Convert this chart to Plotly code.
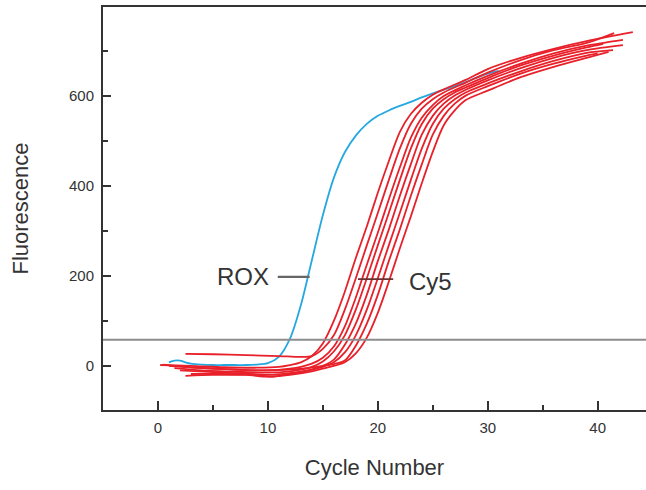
import plotly.graph_objects as go

# ---------------- data ----------------
rox_cycles = [1, 1.5, 2, 2.5, 3, 4, 5, 6, 7, 8, 9, 10, 11, 12, 13, 14, 15, 16,
              17, 18, 19, 20, 21, 22, 23, 24, 25, 26, 27, 28, 29, 30, 31]
rox_values = [8, 12, 12, 8, 5, 3, 2, 2, 2, 2, 3, 6, 20, 60, 135, 235, 335, 418,
              475, 512, 538, 556, 568, 578, 587, 597, 606, 614, 622, 631, 641, 650, 656]

cy5_1_cycles = [0.2, 3, 6, 9, 11, 12, 13, 14, 15, 16, 17, 18, 19, 20, 21, 22, 23, 24,
                25, 26, 28, 30, 33, 36, 39, 43.2]
cy5_1_values = [2, 0, -3, -4, -2, 2, 8, 22, 50, 100, 165, 240, 310, 385, 455, 520, 560, 585,
                603, 615, 636, 660, 685, 705, 722, 742]

cy5_2_cycles = [2.5, 5, 8, 11, 13, 14, 15, 16, 17, 18, 19, 20, 21, 22, 23, 24, 25, 26,
                28, 30, 33, 36, 39, 41.5]
cy5_2_values = [27, 26, 24, 22, 20, 22, 38, 68, 125, 195, 268, 340, 413, 483, 538, 572, 593, 608,
                630, 652, 680, 702, 718, 740]

cy5_3_cycles = [1, 4, 7, 10, 12, 13, 14, 15, 16, 17, 18, 19, 20, 21, 22, 23, 24, 25,
                26, 28, 30, 33, 36, 39, 42.3]
cy5_3_values = [0, -5, -8, -10, -6, -2, 5, 18, 43, 88, 152, 225, 296, 370, 441, 507, 552, 580,
                600, 624, 645, 672, 695, 712, 725]

cy5_4_cycles = [1.5, 4, 7, 10, 12, 13, 14, 15, 16, 17, 18, 19, 20, 21, 22, 23, 24, 25,
                26, 27, 28, 30, 33, 36, 39, 40.5]
cy5_4_values = [-5, -10, -13, -15, -12, -8, -2, 10, 32, 68, 125, 195, 268, 340, 413, 483, 538, 572,
                593, 608, 619, 640, 668, 690, 708, 716]

cy5_5_cycles = [3, 6, 9, 10.5, 12, 14, 15, 16, 17, 18, 19, 20, 21, 22, 23, 24, 25, 26,
                27, 28, 30, 33, 36, 39, 42.3]
cy5_5_values = [-18, -18, -20, -24, -18, -8, 0, 14, 47, 94, 158, 233, 303, 378, 448, 514, 556, 583,
                601, 614, 635, 662, 685, 702, 713]

cy5_6_cycles = [2, 5, 8, 10, 12, 14, 15, 16, 17, 18, 19, 20, 21, 22, 23, 24, 25, 26,
                27, 28, 30, 33, 36, 39, 41.4]
cy5_6_values = [-10, -14, -17, -20, -16, -8, -2, 8, 30, 68, 125, 195, 268, 340, 413, 483, 538, 572,
                593, 608, 628, 655, 678, 696, 702]

cy5_7_cycles = [0.5, 3, 6, 9, 12, 14, 15, 16, 17, 18, 19, 20, 21, 22, 23, 24, 25, 26,
                27, 28, 30, 33, 36, 39, 40]
cy5_7_values = [3, -3, -7, -10, -8, -4, 0, 4, 12, 45, 94, 158, 233, 303, 378, 448, 514, 556,
                583, 601, 622, 650, 672, 690, 695]

cy5_8_cycles = [2.5, 5, 8, 10, 12, 14, 15, 16, 17, 18, 19, 20, 21, 22, 23, 24, 25, 26,
                27, 28, 30, 33, 36, 39, 41]
cy5_8_values = [-22, -20, -20, -24, -20, -12, -6, 0, 8, 28, 63, 118, 187, 261, 332, 406, 476, 535,
                568, 591, 612, 642, 665, 685, 698]

cy5_series = [
    (cy5_1_cycles, cy5_1_values), (cy5_2_cycles, cy5_2_values),
    (cy5_3_cycles, cy5_3_values), (cy5_4_cycles, cy5_4_values),
    (cy5_5_cycles, cy5_5_values), (cy5_6_cycles, cy5_6_values),
    (cy5_7_cycles, cy5_7_values), (cy5_8_cycles, cy5_8_values),
]

threshold = 58
x_tick_values = [0, 10, 20, 30, 40]
y_tick_values = [0, 200, 400, 600]

# ---------------- figure ----------------
RED = "#e8202a"
BLUE = "#25a8e0"
FONT = "Liberation Sans, Arial, sans-serif"

fig = go.Figure()
fig.add_trace(go.Scatter(x=rox_cycles, y=rox_values, mode="lines",
                         line=dict(color=BLUE, width=1.8, shape="spline", smoothing=0.8),
                         showlegend=False, hoverinfo="skip"))
for cyc, val in cy5_series:
    fig.add_trace(go.Scatter(x=cyc, y=val, mode="lines",
                             line=dict(color=RED, width=1.8, shape="spline", smoothing=0.8),
                             showlegend=False, hoverinfo="skip"))

# threshold line
fig.add_shape(type="line", xref="paper", x0=0, x1=1, yref="y", y0=threshold, y1=threshold,
              line=dict(color="#8c8c8c", width=2), layer="above")
# label leader lines
fig.add_shape(type="line", xref="x", yref="y", x0=10.9, x1=13.8, y0=198, y1=198,
              line=dict(color="#666666", width=2.2))
fig.add_shape(type="line", xref="x", yref="y", x0=18.2, x1=21.4, y0=193, y1=193,
              line=dict(color="#6b3030", width=1.8))

fig.add_annotation(x=7.7, y=198, text="ROX", showarrow=False,
                   font=dict(family=FONT, size=24, color="#333333"))
fig.add_annotation(x=24.8, y=188, text="Cy5", showarrow=False,
                   font=dict(family=FONT, size=24, color="#333333"))

fig.update_layout(
    width=646, height=490,
    margin=dict(l=103, r=0, t=7, b=80),
    paper_bgcolor="white", plot_bgcolor="white",
    font=dict(family=FONT, color="#333333"),
    xaxis=dict(range=[-5, 44.4], tickvals=x_tick_values, ticks="inside", ticklen=9,
               tickwidth=1.5, tickcolor="#333333",
               minor=dict(dtick=5, tick0=0, ticks="inside", ticklen=5, tickwidth=1.5,
                          tickcolor="#333333"),
               showline=True, linecolor="#333333", linewidth=2, mirror=True,
               showgrid=False, zeroline=False,
               tickfont=dict(size=15, family=FONT, color="#333333"), ticklabelstandoff=3,
               title=dict(text="Cycle Number", font=dict(size=22, family=FONT, color="#333333"),
                          standoff=25)),
    yaxis=dict(range=[-98, 798], tickvals=y_tick_values, ticks="inside", ticklen=8,
               tickwidth=1.5, tickcolor="#333333",
               minor=dict(dtick=200, tick0=100, ticks="inside", ticklen=5, tickwidth=1.5,
                          tickcolor="#333333"),
               showline=True, linecolor="#333333", linewidth=2, mirror=False,
               showgrid=False, zeroline=False,
               tickfont=dict(size=15, family=FONT, color="#333333"), ticklabelstandoff=4,
               title=dict(text="Fluorescence", font=dict(size=22, family=FONT, color="#333333"),
                          standoff=34)),
)

fig.write_html("out.html", config={"displayModeBar": False})

# remove default page margins so the 646x490 figure fills the window exactly
with open("out.html", "r", encoding="utf-8") as f:
    html = f.read()
html = html.replace("<head>", "<head><style>html,body{margin:0;padding:0;overflow:hidden;}</style>", 1)
with open("out.html", "w", encoding="utf-8") as f:
    f.write(html)
